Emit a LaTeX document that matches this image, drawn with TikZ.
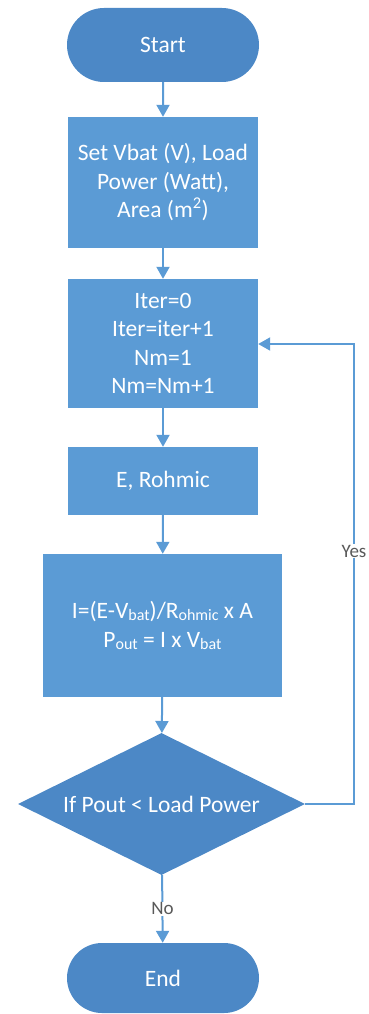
\documentclass[tikz,border=0pt]{standalone}
\usepackage{fontspec}
\setmainfont{Carlito}
\usetikzlibrary{shapes.misc,shapes.geometric,arrows.meta}
\definecolor{boxblue}{HTML}{5B9BD5}
\definecolor{termblue}{HTML}{4C88C6}
\definecolor{lineblue}{HTML}{5B9BD5}
\newcommand\sbs[1]{\raisebox{-0.08em}{\fontsize{16}{16}\selectfont #1}}
\tikzset{
  boxtext/.style={text=white, align=center, font=\fontsize{23.5}{28.5}\selectfont, inner sep=0pt},
  procbox/.style={boxtext, rectangle, fill=boxblue},
  termbox/.style={boxtext, rounded rectangle, fill=termblue, minimum width=192pt},
  decbox/.style={boxtext, diamond, aspect=2, fill=termblue, minimum width=287pt, minimum height=142pt},
  flow/.style={draw=lineblue, line width=2pt, -{Triangle[width=13pt,length=12pt]}},
  lbl/.style={fill=white, text=black!65, font=\fontsize{19}{19}\selectfont, inner sep=1pt}
}
\begin{document}
\begin{tikzpicture}[x=1pt,y=-1pt]
\useasboundingbox (0,0) rectangle (368,1014);
\node[termbox, minimum height=74pt] (start) at (163,45) {Start};
\node[procbox, minimum width=190pt, minimum height=131pt] (set) at (163,182.5)
  {Set Vbat (V), Load\\Power (Watt),\\Area (m\textsuperscript{2})};
\node[procbox, minimum width=190pt, minimum height=129pt] (iter) at (163,343.5)
  {Iter=0\\Iter=iter+1\\Nm=1\\Nm=Nm+1};
\node[procbox, minimum width=190pt, minimum height=68pt] (erohm) at (163,481) {E, Rohmic};
\node[procbox, minimum width=239pt, minimum height=143pt] (calc) at (162.5,625.5)
  {I=(E-V\sbs{bat})/R\sbs{ohmic} x A\\P\sbs{out} = I x V\sbs{bat}};
\node[decbox] (dec) at (161.5,804) {If Pout {\textless} Load Power};
\node[termbox, minimum height=70pt] (end) at (163,978) {End};
\coordinate (c1) at (354,804);
\coordinate (c2) at (354,344);
\draw[flow] (start) -- (set);
\draw[flow] (set) -- (iter);
\draw[flow] (iter) -- (erohm);
\draw[flow] (erohm) -- (calc);
\draw[flow] (calc) -- (dec);
\draw[flow] (dec) -- node[lbl, pos=0.5] {No} (end);
\draw[flow] (dec.east) -- (c1) -- node[lbl, pos=0.55] {Yes} (c2) -- (iter.east |- c2);
\end{tikzpicture}
\end{document}
